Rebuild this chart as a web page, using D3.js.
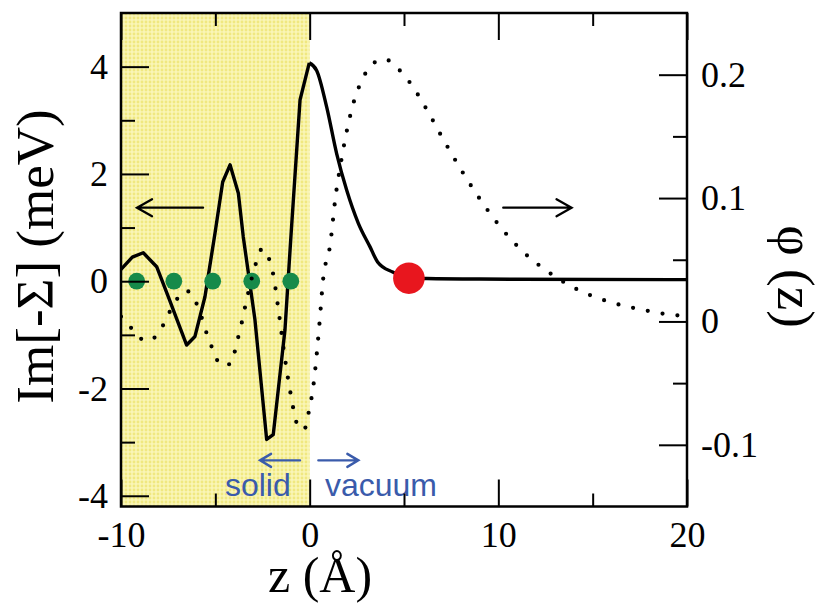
<!DOCTYPE html>
<html>
<head>
<meta charset="utf-8">
<script src="https://cdn.jsdelivr.net/npm/d3@7"></script>
<style>
  html, body { margin: 0; padding: 0; background: #fff; }
  svg { display: block; }
</style>
</head>
<body>
<svg id="chart" width="824" height="603"></svg>
<script>
// ---------- data ----------
// Im[-Sigma] (meV), left axis
const solidZ = [-10, -9.4, -8.82, -8.11, -7.49, -6.52, -6.08, -5.55, -5.02, -4.61, -4.22, -3.78, -3.52, -2.9, -2.28, -1.93, -1.31, -1.0, -0.51, -0.02, 0.37, 0.9, 1.43, 1.96, 2.58, 3.2, 3.6, 4.4, 5.26, 6.2, 9, 20];
const solidV = [0.22, 0.45, 0.53, 0.27, -0.29, -1.19, -1.03, -0.29, 0.89, 1.85, 2.17, 1.64, 0.83, -0.72, -2.95, -2.86, -0.91, 0.8, 3.38, 4.07, 3.93, 3.25, 2.38, 1.7, 1.08, 0.64, 0.36, 0.17, 0.07, 0.05, 0.04, 0.03];
// phi(z), right axis
const phiZ = [-10, -9.35, -8.69, -8.02, -7.58, -7.14, -6.56, -6.03, -5.72, -5.43, -5.11, -4.7, -4.13, -3.91, -3.69, -3.29, -2.85, -2.51, -2.16, -1.93, -1.66, -1.31, -1.01, -0.64, -0.3, -0.07, 0.23, 0.49, 0.72, 1.08, 1.38, 1.66, 1.99, 2.44, 2.76, 3.2, 3.95, 4.7, 5.28, 6.23, 7.1, 8.0, 8.97, 10.02, 11.23, 12.61, 14.15, 15.81, 17.57, 19.34, 20];
const phiV = [0.004, -0.007, -0.016, -0.01, 0.003, 0.0156, 0.025, 0.0156, 0.003, -0.011, -0.0235, -0.0356, -0.034, -0.02, -0.007, 0.021, 0.047, 0.059, 0.051, 0.038, 0.01, -0.03, -0.0585, -0.084, -0.088, -0.075, -0.048, -0.007, 0.035, 0.0615, 0.102, 0.129, 0.156, 0.183, 0.195, 0.2067, 0.2127, 0.2046, 0.1943, 0.1711, 0.1471, 0.1236, 0.1004, 0.0783, 0.0577, 0.0405, 0.0262, 0.0162, 0.0097, 0.0051, 0.0045];
// atomic layer positions (green) and image-plane position (red)
const layerZ = [-9.17, -7.2, -5.14, -3.07, -1.0];
const layerV = [0, 0, 0, 0, 0];
const imageZ = [5.26];
const imageV = [0.056];
// ticks
const xMajor = [-10, 0, 10, 20];
const xMinor = [-5, 5, 15];
const yLMajor = [-4, -2, 0, 2, 4];
const yLMinor = [-3, -1, 1, 3];
const yRMajor = [-0.1, 0, 0.1, 0.2];
const yRMinor = [-0.05, 0.05, 0.15];
// annotations
const solidRegion = [-10, 0];
const arrowsBlack = [{from: -5.65, to: -9.15, v: 1.37}, {from: 10.26, to: 13.88, v: 1.37}];
const arrowsBlue = [{from: -0.51, to: -2.63, v: -3.34}, {from: 0.46, to: 2.58, v: -3.34}];
const blueLabels = [{text: "solid", z: -4.49, v: -4.01}, {text: "vacuum", z: 0.81, v: -4.01}];
const xTitle = "z (Å)";
const yLTitle = "Im[-Σ] (meV)";
const yRTitle = "φ (z)";

// ---------- layout ----------
const L = 121, R = 687, T = 13, B = 506.5;
const svg = d3.select("#chart");
const x = d3.scaleLinear().domain([-10, 20]).range([L, R]);
const yL = d3.scaleLinear().domain([-4.2, 5]).range([B, T]);
const yR = d3.scaleLinear().domain([-0.15, 0.25]).range([B, T]);

const defs = svg.append("defs");
const pat = defs.append("pattern").attr("id", "dots").attr("width", 4).attr("height", 4)
  .attr("patternUnits", "userSpaceOnUse");
pat.append("rect").attr("width", 4).attr("height", 4).attr("fill", "#faf6b6");
pat.append("circle").attr("cx", 2).attr("cy", 2).attr("r", 1.4).attr("fill", "#f0e880");

defs.append("clipPath").attr("id", "clip").append("rect")
  .attr("x", L).attr("y", T).attr("width", R - L).attr("height", B - T);

// shaded solid region
svg.append("rect")
  .attr("x", x(solidRegion[0])).attr("y", T)
  .attr("width", x(solidRegion[1]) - x(solidRegion[0])).attr("height", B - T)
  .attr("fill", "url(#dots)");

const plot = svg.append("g").attr("clip-path", "url(#clip)");

// solid curve: sharp oscillations inside the solid, smooth decay outside
const solidData = solidZ.map((z, i) => [z, solidV[i]]);
const peakZ = solidZ[solidV.indexOf(d3.max(solidV))];
const solidIn = solidData.filter(d => d[0] <= peakZ);
const solidOut = solidData.filter(d => d[0] >= peakZ);
plot.append("path").datum(solidIn)
  .attr("d", d3.line().x(d => x(d[0])).y(d => yL(d[1])).curve(d3.curveLinear))
  .attr("fill", "none").attr("stroke", "#000").attr("stroke-width", 3.4)
  .attr("stroke-linejoin", "round");
plot.append("path").datum(solidOut)
  .attr("d", d3.line().x(d => x(d[0])).y(d => yL(d[1])).curve(d3.curveMonotoneX))
  .attr("fill", "none").attr("stroke", "#000").attr("stroke-width", 3.4)
  .attr("stroke-linejoin", "round");

// green dots
plot.selectAll("circle.layer").data(layerZ.map((z, i) => [z, layerV[i]])).enter()
  .append("circle").attr("class", "layer")
  .attr("cx", d => x(d[0])).attr("cy", d => yL(d[1])).attr("r", 8.4)
  .attr("fill", "#168a4a");

// dotted curve
const phiData = phiZ.map((z, i) => [z, phiV[i]]);
plot.append("path").datum(phiData)
  .attr("d", d3.line().x(d => x(d[0])).y(d => yR(d[1])).curve(d3.curveMonotoneX))
  .attr("fill", "none").attr("stroke", "#000").attr("stroke-width", 4.2)
  .attr("stroke-linecap", "round").attr("stroke-dasharray", "0 15");

// red dot
plot.selectAll("circle.image").data(imageZ.map((z, i) => [z, imageV[i]])).enter()
  .append("circle").attr("class", "image")
  .attr("cx", d => x(d[0])).attr("cy", d => yL(d[1])).attr("r", 15.8)
  .attr("fill", "#e8161e");

// arrows
function arrow(g, a, color, width, headLen, headHalf) {
  const x0 = x(a.from), x1 = x(a.to), y0 = yL(a.v);
  const dir = Math.sign(x1 - x0);
  g.append("path")
    .attr("d", `M${x0},${y0}L${x1},${y0}M${x1 - dir * headLen},${y0 - headHalf}L${x1},${y0}L${x1 - dir * headLen},${y0 + headHalf}`)
    .attr("fill", "none").attr("stroke", color).attr("stroke-width", width)
    .attr("stroke-linecap", "round").attr("stroke-linejoin", "miter");
}
arrowsBlack.forEach(a => arrow(svg, a, "#000", 2.3, 15, 8.5));
arrowsBlue.forEach(a => arrow(svg, a, "#3a5bab", 2.4, 11, 6.5));

svg.selectAll("text.blue").data(blueLabels).enter().append("text")
  .attr("class", "blue")
  .attr("x", d => x(d.z)).attr("y", d => yL(d.v))
  .attr("font-family", "'Liberation Sans', Arial, sans-serif")
  .attr("font-size", 32).attr("fill", "#3a5bab")
  .text(d => d.text);

// axes
const fmt = d => String(d);
const tickFont = "'Liberation Serif', 'Times New Roman', serif";
function styleAxis(g) {
  g.select(".domain").remove();
  g.selectAll(".tick line").attr("stroke", "#000").attr("stroke-width", 2);
  g.selectAll(".tick text").attr("font-family", tickFont).attr("font-size", 36).attr("fill", "#000");
}
svg.append("g").attr("transform", `translate(0,${B})`)
  .call(d3.axisBottom(x).tickValues(xMajor).tickSize(-27).tickPadding(15).tickFormat(fmt)).call(styleAxis);
svg.append("g").attr("transform", `translate(0,${B})`)
  .call(d3.axisBottom(x).tickValues(xMinor).tickSize(-13).tickFormat("")).call(styleAxis);
svg.append("g").attr("transform", `translate(0,${T})`)
  .call(d3.axisTop(x).tickValues(xMajor).tickSize(-27).tickFormat("")).call(styleAxis);
svg.append("g").attr("transform", `translate(0,${T})`)
  .call(d3.axisTop(x).tickValues(xMinor).tickSize(-13).tickFormat("")).call(styleAxis);
svg.append("g").attr("transform", `translate(${L},0)`)
  .call(d3.axisLeft(yL).tickValues(yLMajor).tickSize(-28).tickPadding(13).tickFormat(fmt)).call(styleAxis);
svg.append("g").attr("transform", `translate(${L},0)`)
  .call(d3.axisLeft(yL).tickValues(yLMinor).tickSize(-14).tickFormat("")).call(styleAxis);
svg.append("g").attr("transform", `translate(${R},0)`)
  .call(d3.axisRight(yR).tickValues(yRMajor).tickSize(-28).tickPadding(14).tickFormat(fmt)).call(styleAxis);
svg.append("g").attr("transform", `translate(${R},0)`)
  .call(d3.axisRight(yR).tickValues(yRMinor).tickSize(-14).tickFormat("")).call(styleAxis);

// frame
svg.append("rect").attr("x", L).attr("y", T).attr("width", R - L).attr("height", B - T)
  .attr("fill", "none").attr("stroke", "#000").attr("stroke-width", 2.5);

// titles
const titleFont = "'Liberation Serif', 'Times New Roman', serif";
svg.append("text").attr("x", 320).attr("y", 592).attr("text-anchor", "middle")
  .attr("font-family", titleFont).attr("font-size", 50).text(xTitle);
svg.append("text").attr("transform", "translate(53,256.5) rotate(-90)").attr("text-anchor", "middle")
  .attr("font-family", titleFont).attr("font-size", 53).text(yLTitle);
svg.append("text").attr("transform", "translate(778,276.5) rotate(90)").attr("text-anchor", "middle")
  .attr("font-family", titleFont).attr("font-size", 53).text(yRTitle);
</script>
</body>
</html>
